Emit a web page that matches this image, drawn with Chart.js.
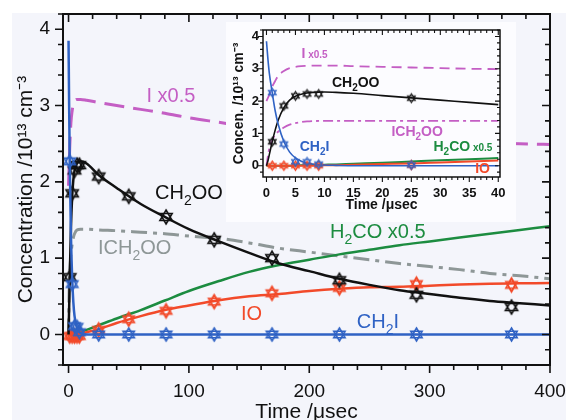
<!DOCTYPE html>
<html>
<head>
<meta charset="utf-8">
<script src="https://cdn.jsdelivr.net/npm/chart.js@4.4.0/dist/chart.umd.min.js"></script>
<style>
  body { margin: 0; background: #fff; }
  #wrap { position: relative; width: 566px; height: 420px; overflow: hidden; }
  #bg { position: absolute; left: 12px; top: 13px; right: 0; bottom: 0; background: #f4f5fb; }
  #main { position: absolute; left: 0; top: 0; }
  #insetBox { position: absolute; left: 226px; top: 22px; width: 290px; height: 200px; background: #fcfcff; }
</style>
</head>
<body>
<div id="wrap">
  <div id="bg"></div>
  <canvas id="main" width="566" height="420"></canvas>
  <div id="insetBox"><canvas id="inset" width="290" height="200"></canvas></div>
</div>
<script>
// ---- main panel: model curves (time in usec) ----
const mainT      = [0, 0.5, 1, 2, 3, 4, 5, 7, 10, 15, 25, 40, 60, 80, 100, 125, 150, 175, 200, 225, 250, 275, 300, 325, 350, 375, 400];
const mainCH2OO  = [0, 0.35, 0.75, 1.40, 1.80, 2.03, 2.15, 2.24, 2.27, 2.24, 2.09, 1.92, 1.71, 1.54, 1.38, 1.22, 1.07, 0.93, 0.83, 0.73, 0.65, 0.58, 0.53, 0.48, 0.44, 0.41, 0.38];
const mainCH2I   = [3.85, 3.0, 2.25, 1.30, 0.75, 0.42, 0.24, 0.08, 0.02, 0, 0, 0, 0, 0, 0, 0, 0, 0, 0, 0, 0, 0, 0, 0, 0, 0, 0];
const mainIO     = [0, 0, 0, 0, 0, 0, 0, 0.005, 0.01, 0.03, 0.07, 0.15, 0.24, 0.32, 0.38, 0.45, 0.50, 0.53, 0.57, 0.60, 0.62, 0.625, 0.64, 0.655, 0.665, 0.67, 0.675];
const mainH2CO   = [0, 0, 0, 0, 0, 0.003, 0.005, 0.01, 0.03, 0.06, 0.12, 0.21, 0.32, 0.445, 0.57, 0.70, 0.82, 0.91, 0.98, 1.05, 1.11, 1.17, 1.22, 1.27, 1.32, 1.37, 1.42];
const mainI      = [1.95, 2.2, 2.45, 2.78, 2.93, 3.02, 3.06, 3.08, 3.08, 3.07, 3.04, 3.0, 2.95, 2.9, 2.84, 2.78, 2.72, 2.67, 2.63, 2.6, 2.57, 2.55, 2.53, 2.52, 2.51, 2.50, 2.49];
const mainICH2OO = [0, 0.55, 0.8, 1.05, 1.18, 1.27, 1.32, 1.37, 1.38, 1.38, 1.37, 1.36, 1.34, 1.32, 1.29, 1.26, 1.20, 1.13, 1.08, 1.03, 0.98, 0.93, 0.89, 0.85, 0.80, 0.77, 0.73];

// main panel: measured points
const markT      = [1, 3, 5, 7, 9, 25, 50, 81, 121, 169, 225, 289, 368];
const markCH2OO  = [0.75, 1.85, 2.15, 2.22, 2.22, 2.07, 1.81, 1.54, 1.24, 1.00, 0.71, 0.52, 0.36];
const markCH2I   = [2.27, 0.66, 0.11, 0.10, 0.03, 0, 0, 0, 0, 0, 0, 0, 0];
const markIO     = [-0.02, -0.02, -0.02, -0.02, -0.02, 0.06, 0.20, 0.31, 0.43, 0.54, 0.61, 0.66, 0.65];

const mainXTicks = [0, 100, 200, 300, 400];
const mainYTicks = [0, 1, 2, 3, 4];

// ---- inset: first 40 usec ----
const insT       = [0, 0.25, 0.5, 1, 1.5, 2, 3, 4, 5, 6, 7, 8, 10, 12, 15, 20, 25, 30, 35, 40];
const insCH2OO   = [0, 0.15, 0.35, 0.75, 1.1, 1.4, 1.8, 2.03, 2.15, 2.21, 2.25, 2.27, 2.28, 2.27, 2.24, 2.17, 2.10, 2.03, 1.96, 1.89];
const insCH2I    = [3.85, 3.3, 2.85, 2.25, 1.7, 1.3, 0.75, 0.42, 0.24, 0.14, 0.08, 0.05, 0.02, 0.01, 0, 0, 0, 0, 0, 0];
const insIO      = [0, 0, 0, 0, 0, 0, 0, 0, 0, 0, 0, 0, 0.01, 0.015, 0.03, 0.05, 0.07, 0.10, 0.13, 0.16];
const insH2CO    = [0, 0, 0, 0, 0, 0, 0, 0, 0.005, 0.01, 0.015, 0.02, 0.03, 0.04, 0.06, 0.09, 0.13, 0.17, 0.20, 0.24];
const insI       = [2.0, 2.1, 2.2, 2.45, 2.62, 2.78, 2.93, 3.02, 3.06, 3.08, 3.09, 3.1, 3.1, 3.1, 3.08, 3.06, 3.04, 3.02, 3.0, 2.99];
const insICH2OO  = [0, 0.3, 0.55, 0.8, 0.95, 1.05, 1.18, 1.27, 1.32, 1.35, 1.37, 1.38, 1.39, 1.39, 1.39, 1.39, 1.39, 1.39, 1.39, 1.39];

const insMarkT     = [1, 3, 5, 7, 9, 25];
const insMarkCH2OO = [0.74, 1.85, 2.16, 2.22, 2.22, 2.09];
const insMarkCH2I  = [2.26, 0.67, 0.12, 0.12, 0.05, 0.02];
const insMarkIO    = [0, 0, 0, 0, 0, 0.02];

const insXTicks = [0, 5, 10, 15, 20, 25, 30, 35, 40];
const insYTicks = [0, 1, 2, 3, 4];

const FONT = '"Liberation Sans", Arial, Helvetica, sans-serif';
const BLACK = '#111111', BLUE = '#2f62c4', RED = '#f24a2a', GREEN = '#1c8c40';
const MAGENTA = '#c45ec4', GRAY = '#8e9797';

function pts(xs, ys) {
    return xs.map(function (x, i) { return { x: x, y: ys[i] }; });
}

// hexagram marker (up + down triangle), optional diamond for IO
function starMarker(color, r, lw, diamond) {
    const s = Math.ceil(2 * r + lw + 4);
    const c = document.createElement('canvas');
    c.width = s; c.height = s;
    const g = c.getContext('2d');
    g.translate(s / 2, s / 2);
    g.strokeStyle = color;
    g.lineWidth = lw;
    [-1, 1].forEach(function (d) {
        g.beginPath();
        g.moveTo(0, -d * r);
        g.lineTo(r * 0.87, d * r * 0.5);
        g.lineTo(-r * 0.87, d * r * 0.5);
        g.closePath();
        g.stroke();
    });
    if (diamond) {
        g.beginPath();
        g.moveTo(0, -r * 1.05); g.lineTo(r * 0.6, 0); g.lineTo(0, r * 1.05); g.lineTo(-r * 0.6, 0);
        g.closePath();
        g.stroke();
    }
    return c;
}

function curve(xs, ys, color, width, dash) {
    return {
        data: pts(xs, ys), borderColor: color, borderWidth: width, borderDash: dash || [],
        pointRadius: 0, cubicInterpolationMode: 'monotone', fill: false
    };
}

function marks(xs, ys, img) {
    return { data: pts(xs, ys), showLine: false, pointStyle: img, pointRadius: 6, borderColor: 'rgba(0,0,0,0)' };
}

// frame + tick marks (inward on top/right) and the in-plot labels
function decor(o, items, size, weight) {
    return {
        id: 'decor',
        afterDraw: function (chart) {
            const g = chart.ctx, a = chart.chartArea;
            const xs = chart.scales.x, ys = chart.scales.y;
            g.save();
            g.setLineDash([]);
            g.globalAlpha = 1;
            g.strokeStyle = BLACK;
            g.lineWidth = o.tickWidth;
            g.beginPath();
            for (let k = Math.ceil(xs.min / o.xMinor - 1e-9); k <= Math.floor(xs.max / o.xMinor + 1e-9); k++) {
                const v = k * o.xMinor, px = xs.getPixelForValue(v);
                const major = Math.abs(v / o.xMajor - Math.round(v / o.xMajor)) < 1e-6;
                g.moveTo(px, a.bottom); g.lineTo(px, a.bottom + (major ? o.outMajor : o.outMinor));
                g.moveTo(px, a.top); g.lineTo(px, a.top + (major ? o.inMajor : o.inMinor));
            }
            for (let k = Math.ceil(ys.min / o.yMinor - 1e-9); k <= Math.floor(ys.max / o.yMinor + 1e-9); k++) {
                const v = k * o.yMinor, py = ys.getPixelForValue(v);
                const major = Math.abs(v / o.yMajor - Math.round(v / o.yMajor)) < 1e-6;
                g.moveTo(a.left, py); g.lineTo(a.left - (major ? o.outMajor : o.outMinor), py);
                g.moveTo(a.right, py); g.lineTo(a.right - (major ? o.inMajor : o.inMinor), py);
            }
            g.stroke();
            g.lineWidth = o.frameWidth;
            g.beginPath();
            g.rect(a.left, a.top, a.right - a.left, a.bottom - a.top);
            g.stroke();

            g.textBaseline = 'alphabetic';
            g.textAlign = 'left';
            const fs = function (kind) { return kind === 'n' ? size : Math.round(size * 0.72); };
            items.forEach(function (it) {
                const cx = xs.getPixelForValue(it.x);
                const cy = ys.getPixelForValue(it.y);
                let w = 0;
                it.parts.forEach(function (p) {
                    g.font = weight + ' ' + fs(p[1]) + 'px ' + FONT;
                    w += g.measureText(p[0]).width;
                });
                let x = cx - w / 2;
                const base = cy + size * 0.36;
                g.fillStyle = it.color;
                it.parts.forEach(function (p) {
                    g.font = weight + ' ' + fs(p[1]) + 'px ' + FONT;
                    g.fillText(p[0], x, p[1] === 's' ? base + size * 0.3 : base);
                    x += g.measureText(p[0]).width;
                });
            });
            g.restore();
        }
    };
}

const mainLabels = [
    { x: 85, y: 3.14, color: MAGENTA, parts: [['I x0.5', 'n']] },
    { x: 100, y: 1.87, color: BLACK, parts: [['CH', 'n'], ['2', 's'], ['OO', 'n']] },
    { x: 55, y: 1.15, color: GRAY, parts: [['ICH', 'n'], ['2', 's'], ['OO', 'n']] },
    { x: 257, y: 1.36, color: GREEN, parts: [['H', 'n'], ['2', 's'], ['CO x0.5', 'n']] },
    { x: 152, y: 0.29, color: RED, parts: [['IO', 'n']] },
    { x: 257, y: 0.18, color: BLUE, parts: [['CH', 'n'], ['2', 's'], ['I', 'n']] }
];

const insLabels = [
    { x: 8.3, y: 3.49, color: MAGENTA, parts: [['I', 'n'], [' x0.5', 'm']] },
    { x: 15.4, y: 2.6, color: BLACK, parts: [['CH', 'n'], ['2', 's'], ['OO', 'n']] },
    { x: 26.0, y: 1.08, color: MAGENTA, parts: [['ICH', 'n'], ['2', 's'], ['OO', 'n']] },
    { x: 8.3, y: 0.62, color: BLUE, parts: [['CH', 'n'], ['2', 's'], ['I', 'n']] },
    { x: 33.9, y: 0.62, color: GREEN, parts: [['H', 'n'], ['2', 's'], ['CO', 'n'], [' x0.5', 'm']] },
    { x: 37.3, y: -0.08, color: RED, parts: [['IO', 'n']] }
];

function axes(xr, yr, xTicks, yTicks, tickFont, titleFont, sizes) {
    return {
        x: {
            type: 'linear', min: xr[0], max: xr[1],
            grid: { display: false, drawTicks: false }, border: { display: false },
            ticks: { padding: sizes.xPad, color: BLACK, maxRotation: 0, font: tickFont },
            afterBuildTicks: function (s) { s.ticks = xTicks.map(function (v) { return { value: v }; }); },
            afterFit: function (s) { s.height = sizes.xH; s.paddingLeft = 0; s.paddingRight = 0; },
            title: { display: true, text: 'Time /\u03bcsec', color: BLACK, font: titleFont, padding: { top: 0, bottom: sizes.xTitlePad } }
        },
        y: {
            type: 'linear', min: yr[0], max: yr[1],
            grid: { display: false, drawTicks: false }, border: { display: false },
            ticks: { padding: sizes.yPad, color: BLACK, font: tickFont },
            afterBuildTicks: function (s) { s.ticks = yTicks.map(function (v) { return { value: v }; }); },
            afterFit: function (s) { s.width = sizes.yW; s.paddingTop = 0; s.paddingBottom = 0; },
            title: { display: true, text: sizes.yTitle, color: BLACK, font: titleFont, padding: { top: sizes.yTitlePad, bottom: 0 } }
        }
    };
}

const bigStar = starMarker(BLACK, 7, 1.6, false);
const bigBlue = starMarker(BLUE, 6.5, 1.6, false);
const bigRed = starMarker(RED, 6.5, 1.6, true);

new Chart(document.getElementById('main'), {
    type: 'line',
    data: {
        datasets: [
            marks(markT, markCH2I, bigBlue),
            curve(mainT, mainCH2I, BLUE, 2.5),
            marks(markT, markCH2OO, bigStar),
            curve(mainT, mainCH2OO, BLACK, 2.5),
            marks(markT, markIO, bigRed),
            curve(mainT, mainIO, RED, 2.5),
            curve(mainT, mainH2CO, GREEN, 2.5),
            curve(mainT, mainICH2OO, GRAY, 3, [16, 6, 4, 6]),
            curve(mainT, mainI, MAGENTA, 3, [20, 9])
        ]
    },
    options: {
        responsive: false,
        animation: false,
        layout: { padding: { top: 14, right: 16, left: 0, bottom: 0 } },
        plugins: { legend: { display: false }, tooltip: { enabled: false } },
        scales: axes([-4.6, 400], [-0.4, 4.2], mainXTicks, mainYTicks,
            { family: FONT, size: 19 }, { family: FONT, size: 21, lineHeight: 0.7 },
            { xPad: 15, yPad: 13, xH: 55, yW: 63, xTitlePad: 0, yTitlePad: 19,
              yTitle: 'Concentration /10\u00b9\u00b3 cm\u207b\u00b3' })
    },
    plugins: [
        decor({ xMinor: 20, xMajor: 100, yMinor: 0.2, yMajor: 1, outMajor: 8, outMinor: 5,
            inMajor: 8, inMinor: 5, tickWidth: 1.6, frameWidth: 2 }, mainLabels, 20, 'normal')
    ]
});

const smStar = starMarker(BLACK, 4.5, 1.1, false);
const smBlue = starMarker(BLUE, 4.5, 1.1, false);
const smRed = starMarker(RED, 4.5, 1.1, true);

new Chart(document.getElementById('inset'), {
    type: 'line',
    data: {
        datasets: [
            marks(insMarkT, insMarkCH2I, smBlue),
            marks(insMarkT, insMarkCH2OO, smStar),
            marks(insMarkT, insMarkIO, smRed),
            curve(insT, insCH2I, BLUE, 1.6),
            curve(insT, insCH2OO, BLACK, 1.6),
            curve(insT, insIO, RED, 2),
            curve(insT, insH2CO, GREEN, 2),
            curve(insT, insICH2OO, MAGENTA, 1.8, [10, 4, 3, 4]),
            curve(insT, insI, MAGENTA, 1.8, [10, 6])
        ]
    },
    options: {
        responsive: false,
        animation: false,
        layout: { padding: { top: 8, right: 16, left: 0, bottom: 0 } },
        plugins: { legend: { display: false }, tooltip: { enabled: false } },
        scales: axes([-0.6, 40.3], [-0.35, 4.2], insXTicks, insYTicks,
            { family: FONT, size: 13, weight: 'bold' }, { family: FONT, size: 14, weight: 'bold', lineHeight: 1.2 },
            { xPad: 9, yPad: 4, xH: 45, yW: 37, xTitlePad: 8, yTitlePad: 5,
              yTitle: 'Concen. /10\u00b9\u00b3 cm\u207b\u00b3' })
    },
    plugins: [
        decor({ xMinor: 1, xMajor: 5, yMinor: 0.2, yMajor: 1, outMajor: 5, outMinor: 3,
            inMajor: 5, inMinor: 3, tickWidth: 1.1, frameWidth: 1.5 }, insLabels, 14, 'bold')
    ]
});
</script>
</body>
</html>
